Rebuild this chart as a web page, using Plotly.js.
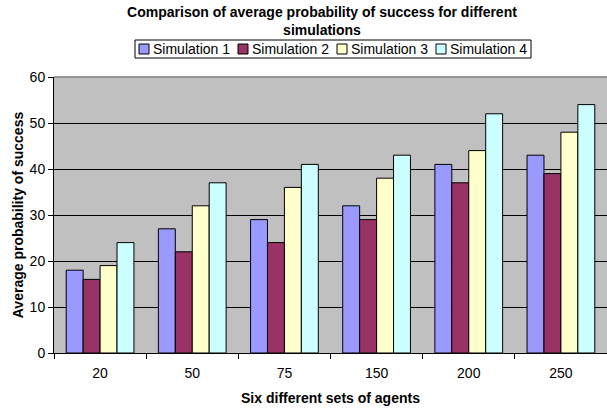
<!DOCTYPE html>
<html>
<head>
<meta charset="utf-8">
<script src="https://cdn.plot.ly/plotly-3.0.1.min.js"></script>
<style>html,body{margin:0;padding:0;background:#fff}#chart{width:607px;height:409px}</style>
</head>
<body>
<div id="chart"></div>
<script>
const categories = ["20", "50", "75", "150", "200", "250"];
const seriesNames = ["Simulation 1", "Simulation 2", "Simulation 3", "Simulation 4"];
const sim1 = [18, 27, 29, 32, 41, 43];
const sim2 = [16, 22, 24, 29, 37, 39];
const sim3 = [19, 32, 36, 38, 44, 48];
const sim4 = [24, 37, 41, 43, 52, 54];
const colors = ["#9999FF", "#993366", "#FFFFCC", "#CCFFFF"];

const F = "Arial, 'Liberation Sans', sans-serif";
const W = 607, H = 409;
const M = {l: 54, r: 0, t: 77, b: 56};
const PW = W - M.l - M.r, PH = H - M.t - M.b;
// pixel -> paper coordinate helpers (for the custom legend)
const px = x => (x - M.l) / PW;
const py = y => (H - M.b - y) / PH;

const allSeries = [sim1, sim2, sim3, sim4];
const traces = allSeries.map((vals, i) => ({
  type: "bar",
  name: seriesNames[i],
  x: categories,
  y: vals,
  marker: {color: colors[i], line: {color: "#000000", width: 1}},
  showlegend: false
}));

// custom legend, Excel style (compact)
const legBox = {x0: 135, x1: 531, y0: 40, y1: 58};
const legStart = 139, legStep = 99, sym = 10;
const shapes = [{
  type: "rect", xref: "paper", yref: "paper",
  x0: px(legBox.x0), x1: px(legBox.x1), y0: py(legBox.y1), y1: py(legBox.y0),
  line: {color: "#000", width: 1}, fillcolor: "#fff", layer: "above"
}, {
  type: "line", xref: "paper", yref: "paper", x0: 0, x1: 1, y0: 1, y1: 1,
  line: {color: "#808080", width: 1.5}, layer: "above"
}];
const annotations = [];
seriesNames.forEach((name, i) => {
  const sx = legStart + i * legStep;
  const cy = (legBox.y0 + legBox.y1) / 2;
  shapes.push({
    type: "rect", xref: "paper", yref: "paper",
    x0: px(sx), x1: px(sx + sym), y0: py(cy + sym / 2), y1: py(cy - sym / 2),
    line: {color: "#000", width: 1}, fillcolor: colors[i], layer: "above"
  });
  annotations.push({
    xref: "paper", yref: "paper", x: px(sx + sym + 2), y: py(cy),
    xanchor: "left", yanchor: "middle", showarrow: false,
    text: name, font: {family: F, size: 14, color: "#000"}
  });
});

const layout = {
  width: W, height: H,
  margin: M,
  paper_bgcolor: "#ffffff",
  plot_bgcolor: "#C0C0C0",
  barmode: "group",
  bargap: 0.265,
  bargroupgap: 0,
  font: {family: F, size: 14, color: "#000"},
  title: {
    text: "<b>Comparison of average probability of success for different<br>simulations</b>",
    font: {family: F, size: 14, color: "#000"},
    x: 322 / W, xref: "container", xanchor: "center",
    y: 1 - 17 / H, yref: "container", yanchor: "middle"
  },
  showlegend: false,
  xaxis: {
    type: "category",
    tickson: "boundaries",
    ticks: "outside", ticklen: 5, tickcolor: "#000",
    showline: true, linecolor: "#000", linewidth: 1,
    showgrid: false,
    ticklabelstandoff: 7,
    tickfont: {family: F, size: 14, color: "#000"},
    title: {text: "<b>Six different sets of agents</b>", font: {family: F, size: 14, color: "#000"}, standoff: 13}
  },
  yaxis: {
    range: [0, 60],
    dtick: 10,
    ticks: "outside", ticklen: 5, tickcolor: "#000",
    showline: true, linecolor: "#000", linewidth: 1,
    showgrid: true, gridcolor: "#000", gridwidth: 1,
    zeroline: false,
    tickfont: {family: F, size: 14, color: "#000"},
    title: {text: "<b>Average probability of success</b>", font: {family: F, size: 14, color: "#000"}, standoff: 2}
  },
  shapes: shapes,
  annotations: annotations
};

Plotly.newPlot("chart", traces, layout, {displayModeBar: false, staticPlot: true});
</script>
</body>
</html>
